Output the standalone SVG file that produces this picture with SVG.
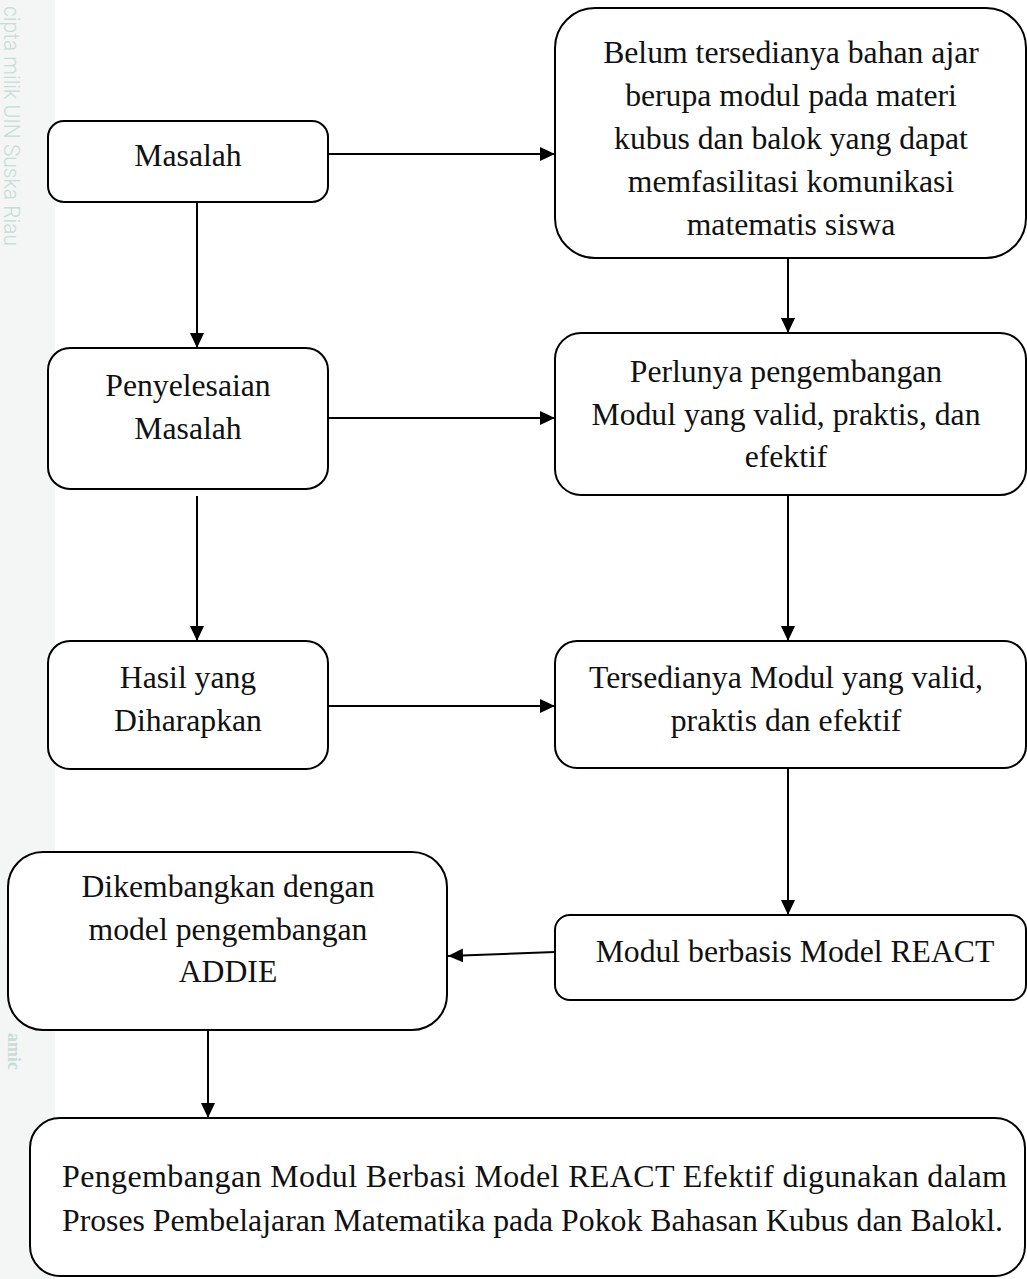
<svg xmlns="http://www.w3.org/2000/svg" width="1027" height="1279" viewBox="0 0 1027 1279">
<style>
.box{fill:#fff;stroke:#000;stroke-width:2}
.t{font-family:"Liberation Serif","Times New Roman",serif;font-size:31.7px;fill:#111;text-anchor:middle}
.b{font-family:"Liberation Serif","Times New Roman",serif;font-size:32px;fill:#111}
.c{fill:none;stroke:#000;stroke-width:2}
.wm{font-family:Roboto,"Liberation Sans",Arial,sans-serif;font-weight:300;font-size:22px;fill:#c9dcd6}
.wm2{font-family:"Liberation Serif",serif;font-weight:bold;font-size:18px;fill:#c9dcd6}
</style>
<defs>
<marker id="ah" markerUnits="userSpaceOnUse" markerWidth="16" markerHeight="14" refX="15" refY="7" orient="auto">
<path d="M0,0 L15,7 L0,14 z" fill="#000"/>
</marker>
</defs>
<rect x="0" y="0" width="1027" height="1279" fill="#fff"/>
<rect x="0" y="0" width="55" height="1279" fill="#f4f5f5"/>
<g id="watermark">
<text class="wm" transform="translate(4,6) rotate(90)" textLength="240" lengthAdjust="spacingAndGlyphs">cipta milik UIN Suska Riau</text>
<text class="wm2" transform="translate(8,1033) rotate(90)">amic</text>
</g>
<g id="connectors">
<line class="c" x1="328" y1="154" x2="555" y2="154" marker-end="url(#ah)"/>
<line class="c" x1="197" y1="202" x2="197" y2="348" marker-end="url(#ah)"/>
<line class="c" x1="788" y1="258" x2="788" y2="333" marker-end="url(#ah)"/>
<line class="c" x1="328" y1="418" x2="555" y2="418" marker-end="url(#ah)"/>
<line class="c" x1="197" y1="496" x2="197" y2="641" marker-end="url(#ah)"/>
<line class="c" x1="788" y1="495" x2="788" y2="641" marker-end="url(#ah)"/>
<line class="c" x1="328" y1="706" x2="555" y2="706" marker-end="url(#ah)"/>
<line class="c" x1="788" y1="768" x2="788" y2="915" marker-end="url(#ah)"/>
<line class="c" x1="555" y1="952" x2="448" y2="956" marker-end="url(#ah)"/>
<line class="c" x1="208" y1="1030" x2="208" y2="1118" marker-end="url(#ah)"/>
</g>
<g id="n-masalah">
<rect class="box" x="48" y="121" width="280" height="81" rx="16"/>
<text class="t" x="188" y="166">Masalah</text>
</g>
<g id="n-belum">
<rect class="box" x="555" y="8" width="471" height="250" rx="40"/>
<text class="t" x="791" y="63">Belum tersedianya bahan ajar</text>
<text class="t" x="791" y="106">berupa modul pada materi</text>
<text class="t" x="791" y="149">kubus dan balok yang dapat</text>
<text class="t" x="791" y="192">memfasilitasi komunikasi</text>
<text class="t" x="791" y="235">matematis siswa</text>
</g>
<g id="n-penyelesaian">
<rect class="box" x="48" y="348" width="280" height="141" rx="22"/>
<text class="t" x="188" y="396">Penyelesaian</text>
<text class="t" x="188" y="439">Masalah</text>
</g>
<g id="n-perlunya">
<rect class="box" x="555" y="333" width="471" height="162" rx="26"/>
<text class="t" x="786" y="382">Perlunya pengembangan</text>
<text class="t" x="786" y="425">Modul yang valid, praktis, dan</text>
<text class="t" x="786" y="467">efektif</text>
</g>
<g id="n-hasil">
<rect class="box" x="48" y="641" width="280" height="128" rx="22"/>
<text class="t" x="188" y="688">Hasil yang</text>
<text class="t" x="188" y="731">Diharapkan</text>
</g>
<g id="n-tersedianya">
<rect class="box" x="555" y="641" width="471" height="127" rx="22"/>
<text class="t" x="786" y="688">Tersedianya Modul yang valid,</text>
<text class="t" x="786" y="731">praktis dan efektif</text>
</g>
<g id="n-react">
<rect class="box" x="555" y="915" width="471" height="85" rx="15"/>
<text class="t" x="795" y="962">Modul berbasis Model REACT</text>
</g>
<g id="n-addie">
<rect class="box" x="8" y="852" width="439" height="178" rx="35"/>
<text class="t" x="228" y="897">Dikembangkan dengan</text>
<text class="t" x="228" y="940">model pengembangan</text>
<text class="t" x="228" y="982">ADDIE</text>
</g>
<g id="n-final">
<rect class="box" x="30" y="1118" width="995" height="158" rx="30"/>
<text class="b" x="62" y="1187" textLength="945" lengthAdjust="spacing">Pengembangan Modul Berbasi Model REACT Efektif digunakan dalam</text>
<text class="b" x="62" y="1231" textLength="941" lengthAdjust="spacingAndGlyphs">Proses Pembelajaran Matematika pada Pokok Bahasan Kubus dan Balokl.</text>
</g>
</svg>
